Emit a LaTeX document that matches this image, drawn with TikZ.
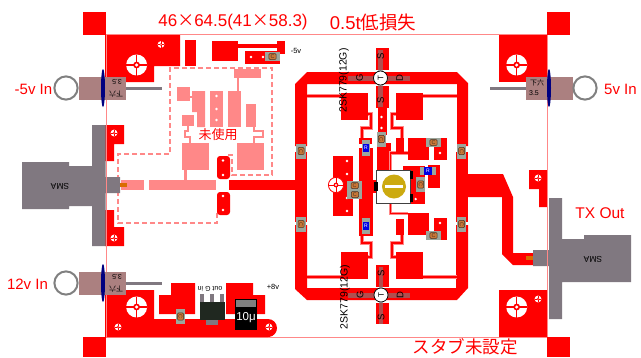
\documentclass[tikz,border=0pt]{standalone}
\usepackage{fontspec}
\setmainfont{Liberation Sans}
\newfontfamily\cjk{Noto Sans CJK JP}
\definecolor{pcbred}{HTML}{FF0000}
\definecolor{pcbpink}{HTML}{FF8888}
\definecolor{smagray}{HTML}{807880}
\definecolor{jackbrown}{HTML}{AB8080}
\definecolor{chipgray}{HTML}{9CA69C}
\definecolor{capbrown}{HTML}{C87838}
\definecolor{capedge}{HTML}{4A3020}
\definecolor{regbody}{HTML}{202820}
\definecolor{trimyellow}{HTML}{CCAA10}
\tikzset{
  cu/.style={fill=pcbred,draw=none},
  unused/.style={fill=pcbpink,draw=none},
  thintrace/.style={draw=pcbred,line width=1.8pt,preaction={draw=pcbpink,line width=3.2pt}},
  unusedtrace/.style={draw=pcbpink,line width=2.2pt},
  deadline/.style={draw=pcbpink,line width=1.2pt,dash pattern=on 5pt off 3pt},
  outline/.style={draw=pcbpink,line width=1pt},
  redlabel/.style={inner sep=0pt,text=pcbred},
  smalllabel/.style={text=black,inner sep=0pt,font=\fontsize{7}{8}\selectfont},
  viahole/.pic={\fill[white] (0,0) circle[radius=1.3];},
  targetvia/.pic={\fill[white] (0,0) circle[radius=3.4];
    \draw[pcbred,line width=.5pt] (-3.4,0)--(3.4,0) (0,-3.4)--(0,3.4);
    \fill[pcbred] (0,0) circle[radius=1.4]; \fill[white] (0,0) circle[radius=.6];},
  mounthole/.pic={\fill[white] (0,0) circle[radius=10.5];
    \draw[pcbred,line width=1.3pt] (-10.5,0)--(10.5,0) (0,-10.5)--(0,10.5);
    \fill[pcbred] (0,0) circle[radius=3.4]; \fill[white] (0,0) circle[radius=1.7];},
  smallmount/.pic={\draw[pcbred,line width=.8pt,fill=white] (0,0) circle[radius=7.6];
    \draw[pcbred,line width=1pt] (-7.6,0)--(7.6,0) (0,-7.6)--(0,7.6);
    \fill[pcbred] (0,0) circle[radius=2.4]; \fill[white] (0,0) circle[radius=1.1];},
  capv/.pic={\fill[chipgray] (-4.6,-7.5) rectangle (4.6,7.5);
    \fill[capbrown,draw=capedge,line width=.5pt,rounded corners=1pt] (-3,-3.6) rectangle (3,3.6);
    \node[inner sep=0pt,text=capedge,font=\fontsize{5.5}{6}\selectfont,rotate=-90] (-cl) at (0,0) {C};},
  caph/.pic={\fill[chipgray] (-7.5,-4.6) rectangle (7.5,4.6);
    \fill[capbrown,draw=capedge,line width=.5pt,rounded corners=1pt] (-3.6,-3) rectangle (3.6,3);
    \node[inner sep=0pt,text=capedge,font=\fontsize{5.5}{6}\selectfont] (-cl) at (0,0) {C};},
  resv/.pic={\fill[chipgray] (-4,-8) rectangle (4,8);
    \fill[blue!90!black] (-3.1,-4) rectangle (3.1,4);
    \node[inner sep=0pt,text=white,font=\fontsize{5}{6}\selectfont] (-rl) at (0,0) {R};},
  resh/.pic={\fill[chipgray] (-8,-4) rectangle (8,4);
    \fill[blue!90!black] (-4,-4) rectangle (4,4);
    \node[inner sep=0pt,text=white,font=\fontsize{5}{6}\selectfont] (-rl) at (0,0) {R};},
  transmark/.pic={
    \fill[gray,opacity=.62] (-33,-2.5) rectangle (29,2.5);
    \fill[gray,opacity=.62] (-2.2,-28) rectangle (2.2,29);
    \draw[black,line width=.7pt,fill=white] (0,0) circle[radius=7];
    \node[smalllabel,rotate=90,font=\fontsize{8}{9}\selectfont] (-t) at (0,0) {T};
    \node[smalllabel,rotate=90,font=\fontsize{9.5}{10}\selectfont] (-g) at (-21,0) {G};
    \node[smalllabel,rotate=90,font=\fontsize{9.5}{10}\selectfont] (-d) at (19,0) {D};
    \node[smalllabel,rotate=90,font=\fontsize{9.5}{10}\selectfont] (-s) at (0,-22) {S};
    \node[smalllabel,rotate=90,font=\fontsize{9.5}{10}\selectfont] (-u) at (0,22) {S};},
}
\begin{document}
\begin{tikzpicture}[x=1pt,y=-1pt]
\useasboundingbox (0,0) rectangle (641,357);
\fill[white] (0,0) rectangle (641,357);

% ---- labels
\node[redlabel,font=\fontsize{17}{18}\selectfont] (dims) at (233,22) {46{\cjk ×}64.5(41{\cjk ×}58.3)};
\node[redlabel,font=\fontsize{18.5}{19}\selectfont] (loss) at (373,22) {0.5t{\cjk 低損失}};
\node[redlabel,font=\fontsize{15}{16}\selectfont] (lm5) at (33.5,89) {-5v In};
\node[redlabel,font=\fontsize{15}{16}\selectfont] (lp5) at (620.5,89) {5v In};
\node[redlabel,font=\fontsize{15}{16}\selectfont] (l12) at (27.5,284) {12v In};
\node[redlabel,font=\fontsize{15.5}{16}\selectfont] (ltx) at (600,213) {TX Out};
\node[redlabel,font=\cjk\fontsize{17.5}{18}\selectfont] (stub) at (465,347) {スタブ未設定};

% ---- board outline and corner marks
\draw[outline] (106,34.5)--(547,34.5) (106,337)--(547,337);
\fill[cu] (83,12) rectangle (106,35);
\fill[cu] (547,12) rectangle (570,35);
\fill[cu] (83,337) rectangle (106,357);
\fill[cu] (547,337) rectangle (570,357);

% ---- corner and side pads
\fill[cu] (105,35)--(180,35)--(180,66)--(154,66)--(154,82)--(105,82)--cycle;
\fill[cu] (499,35) rectangle (548,82);
\fill[cu] (499,290) rectangle (548,337);
\fill[cu] (105,125)--(124,125)--(124,144)--(114,144)--(114,161)--(105,161)--cycle;
\fill[cu] (105,210)--(114,210)--(114,227)--(124,227)--(124,246)--(105,246)--cycle;
\fill[cu] (529,170)--(547,170)--(547,207)--(539,207)--(539,189)--(529,189)--cycle;
\fill[cu] (105,290)--(154,290)--(154,319)--(268,319) arc[start angle=-90,end angle=80,radius=9]
  --(268,337)--(105,337)--cycle;

% ---- top supply pads
\fill[cu] (185,40) rectangle (196,66);
\fill[cu] (212,41) rectangle (238,61);
\fill[cu] (238,44) rectangle (277,48);
\fill[cu] (277,41) rectangle (285,54);
\fill[cu] (245,51) rectangle (280,64);

% ---- bottom regulator pads
\fill[cu] (171,283)--(195,283)--(195,314)--(159,314)--(159,295)--(171,295)--cycle;
\fill[cu] (226,283)--(253,283)--(253,295)--(265,295)--(265,314)--(226,314)--cycle;

% ---- unused (pink) section
\draw[deadline] (228,155)--(232,155)--(232,175)--(272,175)--(272,68)--(170,68)--(170,154)--(118,154)--(118,223)--(217,223)--(217,212);
\fill[unused] (234,68.5) rectangle (261,78);
\fill[unused] (236.5,78) rectangle (239,92);
\fill[unused] (177,87) rectangle (190,101);
\fill[unused] (192,91)--(205,91)--(205,127)--(197,127)--(197,112)--(192,112)--cycle;
\fill[unused] (190,96) rectangle (192,98);
\fill[unused] (210,91) rectangle (223,127);
\fill[unused] (228,91) rectangle (241,127);
\fill[unused] (246,104) rectangle (256,127);
\fill[unused] (182,115) rectangle (194,126);
\draw[unusedtrace] (188,126)--(188,131)--(185,131)--(185,137)--(190,137)--(190,143);
\draw[unusedtrace] (254,127)--(254,131)--(263,131)--(263,137)--(254,137)--(254,143);
\fill[unused] (182,143) rectangle (209,170);
\fill[unused] (237,143) rectangle (264,170);
\fill[unused] (184,170) rectangle (187,180);
\fill[unused] (121,180) rectangle (144,190);
\fill[unused] (149,180) rectangle (216,190);
\pic (uv1) at (216.5,96) {viahole};
\pic (uv2) at (216.5,109) {viahole};
\pic (uv3) at (216.5,120) {viahole};
\node[redlabel,font=\cjk\fontsize{13}{14}\selectfont] (unusedlabel) at (218,135) {未使用};

% ---- RF input
\fill[cu,rounded corners=3pt] (217,156) rectangle (230,179);
\fill[cu,rounded corners=3pt] (217,192) rectangle (230,215);
\pic (rv1) at (223,160.5) {viahole};
\pic (rv2) at (223,175) {viahole};
\pic (rv3) at (223,196) {viahole};
\pic (rv4) at (223,210) {viahole};
\fill[cu] (229,180) rectangle (296,190);

% ---- ring traces
\fill[cu] (295,84)--(307,72)--(457,72)--(468,83)--(468,146)--(457,146)--(457,84)--(307,84)--(307,146)--(295,146)--cycle;
\fill[cu] (295,152) rectangle (307,222);
\fill[cu] (295,225)--(307,225)--(307,288)--(456,288)--(456,225)--(468,225)--(468,288)--(457,300)--(307,300)--(295,289)--cycle;
\fill[cu] (456,152) rectangle (468,222);
\fill[cu] (468,174)--(503,174)--(513,197)--(513,253)--(533,253)--(533,265)--(513,265)--(502,254)--(502,197)--(468,197)--cycle;

% ---- gate stubs
\draw[thintrace] (307,96)--(341,96);
\draw[thintrace] (423,96)--(457,96);
\draw[thintrace] (307,277)--(341,277);
\draw[thintrace] (423,277)--(457,277);
\fill[cu] (341,93) rectangle (368,120);
\fill[cu] (396,93) rectangle (423,120);
\fill[cu] (341,252) rectangle (368,279);
\fill[cu] (396,252) rectangle (423,279);
\draw[thintrace] (368,114)--(371,114)--(371,128)--(362,128)--(362,138);
\draw[thintrace] (396,114)--(392,114)--(392,128)--(402,128)--(402,138);
\draw[thintrace] (368,257)--(371,257)--(371,243)--(362,243)--(362,234);
\draw[thintrace] (396,257)--(392,257)--(392,243)--(402,243)--(402,235);

% ---- source strips
\fill[cu] (376,48) rectangle (389,70);
\fill[cu] (376,86) rectangle (389,108);
\fill[cu] (376,265) rectangle (389,287);
\fill[cu] (376,303) rectangle (389,324);
\fill[cu] (378,108) rectangle (387,135);
\pic (sv1) at (381.5,117) {viahole};
\pic (sv2) at (381.5,128) {viahole};

% ---- bias column and pads
\fill[cu] (359,138) rectangle (372,144);
\fill[cu] (359,148) rectangle (373,236);
\fill[cu] (333,156) rectangle (353,216);
\pic (lv1) at (347,161) {viahole};
\pic (lv2) at (347,174) {viahole};
\pic (lv3) at (347,198) {viahole};
\pic (lv4) at (347,211) {viahole};

% ---- centre block
\fill[cu] (377,143) rectangle (391,170);
\fill[cu] (373,180) rectangle (377,193);
\fill[cu] (403,166) rectangle (425,171);
\fill[cu] (411,170) rectangle (425,204);
\fill[cu] (428,165) rectangle (440,188);
\draw[thintrace] (390.5,170)--(390.5,153)--(408,153);
\draw[thintrace] (390.5,204)--(390.5,213.5)--(408,213.5);
\fill[white] (376.5,170.5) rectangle (410.5,203.5);
\draw[black!75,line width=.8pt] (376.5,170.5) rectangle (410.5,203.5);
\fill[black] (374,182) rectangle (378,191);
\fill[black] (410,171) rectangle (413,179);
\fill[black] (410,194) rectangle (413,202);
\fill[trimyellow] (394,186.5) circle[radius=12];
\fill[white] (385,185.2) rectangle (403,188);
\pic (cv1) at (415.7,199) {viahole};

% ---- right pads
\fill[cu] (396,138) rectangle (404,154);
\fill[cu] (408,138) rectangle (429,160);
\fill[cu] (434,138) rectangle (447,160);
\fill[cu] (396,219) rectangle (404,235);
\fill[cu] (408,213) rectangle (429,235);
\fill[cu] (434,218) rectangle (447,240);
\pic (pv1) at (440,153) {viahole};
\pic (pv2) at (440,223) {viahole};

% ---- mounting holes and vias
\pic (h1) at (136.6,65) {mounthole};
\pic (h2) at (516.7,65) {mounthole};
\pic (h3) at (136.6,307) {mounthole};
\pic (h4) at (516.7,307) {mounthole};
\pic (h5) at (336,185) {smallmount};
\pic (tv1) at (161,44.5) {targetvia};
\pic (tv2) at (114,133) {targetvia};
\pic (tv3) at (114,238) {targetvia};
\pic (tv4) at (538,178) {targetvia};
\pic (tv5) at (538,299) {targetvia};
\pic (tv6) at (118,327) {targetvia};
\pic (tv7) at (269,327) {targetvia};
\pic (v1) at (251,57) {viahole};
\pic (v2) at (263,57) {viahole};

% ---- transistors
\pic (q1) at (380.5,78) {transmark};
\pic (q2) at (381,295) {transmark};
\node[smalllabel,rotate=90,font=\fontsize{10.5}{11}\selectfont] (q1name) at (344,80.5) {2SK779(12G)};
\node[smalllabel,rotate=90,font=\fontsize{10.5}{11}\selectfont] (q2name) at (345,297) {2SK779(12G)};

% ---- chips
\pic (c1) at (272.5,56.5) {caph};
\pic (c2) at (301,151) {capv};
\pic (c3) at (301,224) {capv};
\pic (c4) at (461.7,151) {capv};
\pic (c5) at (461.7,224) {capv};
\pic (c6) at (381.3,139) {capv};
\pic (c7) at (433.5,142.5) {caph};
\pic (c8) at (433.5,235.5) {caph};
\pic (c9) at (354.7,185.5) {caph};
\pic (c10) at (354.9,194.5) {caph};
\pic (c11) at (420.7,184.5) {capv};
\pic (c12) at (180.5,316.5) {capv};
\pic (r1) at (366,148) {resv};
\pic (r2) at (366,226) {resv};
\pic (r3) at (428,171) {resh};

% ---- regulator
\fill[smagray] (200,294) rectangle (204,302);
\fill[smagray] (210,294) rectangle (214,302);
\fill[smagray] (220,294) rectangle (224,302);
\fill[smagray] (206,320) rectangle (218,325);
\fill[regbody] (200,302) rectangle (225,320);
\node[smalllabel,rotate=180] (reglabel) at (210,289) {out G in};
\fill[black] (235,299) rectangle (257,330);
\fill[gray] (236,300) rectangle (256,307);
\node[inner sep=0pt,text=white,font=\fontsize{11.5}{12}\selectfont] (tencap) at (246,318) {10μ};
\node[smalllabel,font=\fontsize{7.5}{8}\selectfont] (plus8) at (273,287) {+8v};
\node[smalllabel,font=\fontsize{7.5}{8}\selectfont] (minus5) at (296,51) {-5v};

% ---- SMA connectors
\fill[smagray] (22,162)--(69,162)--(69,166)--(92,166)--(92,125)--(105.5,125)--(105.5,177)--(120,177)--(120,193)--(105.5,193)--(105.5,246)--(92,246)--(92,206)--(69,206)--(69,209)--(22,209)--cycle;
\fill[orange!85!black] (120,183) rectangle (127,187);
\node[smalllabel,rotate=180,font=\fontsize{8.5}{9}\selectfont] (smaleft) at (60,186) {SMA};
\fill[smagray] (533,250)--(549,250)--(549,198)--(562,198)--(562,239)--(584,239)--(584,235)--(631,235)--(631,282)--(562,282)--(562,319)--(549,319)--(549,266)--(533,266)--cycle;
\fill[orange!85!black] (526,256) rectangle (533,260);
\node[smalllabel,rotate=180,font=\fontsize{8.5}{9}\selectfont] (smaright) at (593,259) {SMA};

% ---- side outline over the connectors
\draw[outline] (106,35)--(106,337) (547,35)--(547,337);

% ---- small jacks
\fill[jackbrown] (79,77) rectangle (126,100);
\fill[smagray] (126,87) rectangle (162,89.5);
\draw[gray,line width=2pt] (66,88) circle[radius=11.6];
\fill[blue!50!black] (103,88) ellipse[x radius=2,y radius=19];
\node[smalllabel,rotate=180,font=\cjk\fontsize{7}{8}\selectfont] (j1a) at (116,94) {下六};
\node[smalllabel,rotate=180] (j1b) at (117,82) {3.5};
\fill[jackbrown] (79,272) rectangle (126,295);
\fill[smagray] (126,282) rectangle (162,284.5);
\draw[gray,line width=2pt] (66,283) circle[radius=11.6];
\fill[blue!50!black] (103,283) ellipse[x radius=2,y radius=19];
\node[smalllabel,rotate=180,font=\cjk\fontsize{7}{8}\selectfont] (j2a) at (116,289) {下六};
\node[smalllabel,rotate=180] (j2b) at (117,277) {3.5};
\fill[jackbrown] (526,77) rectangle (573,100);
\fill[smagray] (490,87) rectangle (526,89.5);
\draw[gray,line width=2pt] (585,88) circle[radius=11.6];
\fill[blue!50!black] (549,88) ellipse[x radius=2,y radius=19];
\node[smalllabel,font=\cjk\fontsize{7}{8}\selectfont] (j3a) at (537,83) {下六};
\node[smalllabel] (j3b) at (534,93) {3.5};
\end{tikzpicture}
\end{document}
